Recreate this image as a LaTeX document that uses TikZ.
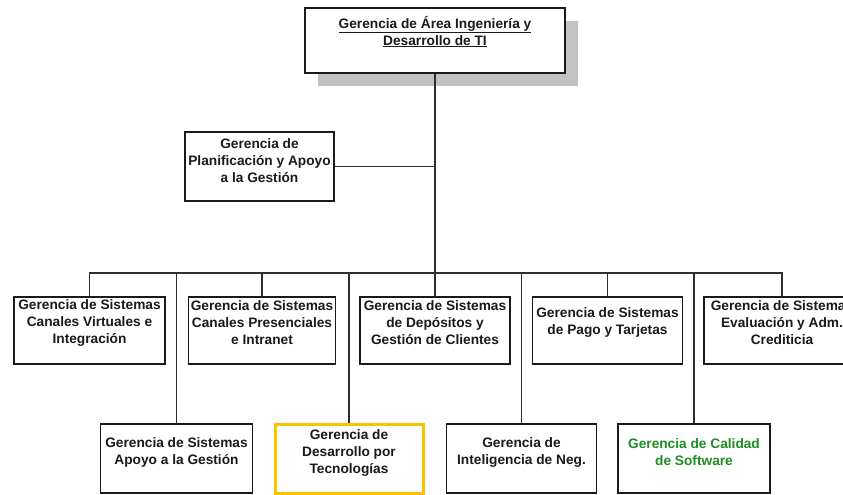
\documentclass[tikz,border=0pt]{standalone}
\usepackage{fontspec}
\setmainfont{Liberation Sans}
\usetikzlibrary{shadows}
\definecolor{inkgray}{HTML}{1A1A1A}
\definecolor{wiregray}{HTML}{2E2E2E}
\definecolor{shadegray}{HTML}{C2C2C2}
\definecolor{focusgold}{HTML}{FFC000}
\definecolor{qagreen}{HTML}{1E8E22}
\tikzset{
  unitbox/.style={draw=inkgray, line width=1.5pt, fill=white, rectangle,
    minimum width=#1, minimum height=67pt, inner sep=0pt},
  unitbox/.default=150pt,
  txt/.style={align=center, text=inkgray, font=\bfseries\fontsize{13.7}{17}\selectfont, inner sep=0pt},
  wire/.style={draw=wiregray, line width=1.5pt},
  headshadow/.style={drop shadow={shadow xshift=13pt, shadow yshift=-13pt, fill=shadegray, opacity=1}},
}
\begin{document}
\begin{tikzpicture}[x=1pt, y=-1pt]
\useasboundingbox (0,0) rectangle (843,495);

% head office
\node[unitbox=260pt, minimum height=65pt, headshadow,
  label={[txt, yshift=9pt]center:{\underline{Gerencia de Área Ingeniería y}\\\underline{Desarrollo de TI}}}]
  (head) at (435,40.5) {};

% staff unit
\node[unitbox=149pt, minimum height=69pt,
  label={[txt, yshift=5.5pt]center:{Gerencia de\\Planificación y Apoyo\\a la Gestión}}]
  (plan) at (259.5,166.5) {};

% first row of systems units
\node[unitbox=151pt, label={[txt, yshift=8pt]center:{Gerencia de Sistemas\\Canales Virtuales e\\Integración}}]
  (virt) at (89.5,330.5) {};
\node[unitbox=147pt, label={[txt, yshift=8pt]center:{Gerencia de Sistemas\\Canales Presenciales\\e Intranet}}]
  (pres) at (262,330.5) {};
\node[unitbox=150pt, label={[txt, yshift=8pt]center:{Gerencia de Sistemas\\de Depósitos y\\Gestión de Clientes}}]
  (depo) at (435,330.5) {};
\node[unitbox=150pt, label={[txt, yshift=8pt]center:{Gerencia de Sistemas\\de Pago y Tarjetas}}]
  (pago) at (607.5,330.5) {};
\node[unitbox=156pt, label={[txt, yshift=8pt]center:{Gerencia de Sistemas\\Evaluación y Adm.\\Crediticia}}]
  (cred) at (782,330.5) {};

% second row
\node[unitbox=152pt, minimum height=69pt,
  label={[txt, yshift=6pt]center:{Gerencia de Sistemas\\Apoyo a la Gestión}}]
  (apoyo) at (176.5,458.5) {};
\node[unitbox=148pt, minimum height=69pt, draw=focusgold, line width=3pt,
  label={[txt, yshift=6pt]center:{Gerencia de\\Desarrollo por\\Tecnologías}}]
  (tecno) at (349,458.5) {};
\node[unitbox=150pt, minimum height=69pt,
  label={[txt, yshift=6pt]center:{Gerencia de\\Inteligencia de Neg.}}]
  (intel) at (521.5,458.5) {};
\node[unitbox=152pt, minimum height=69pt,
  label={[txt, yshift=6pt, text=qagreen]center:{Gerencia de Calidad\\de Software}}]
  (calidad) at (694,458.5) {};

% reporting lines
\coordinate (bus) at (435,273);
\draw[wire] (head.south) -- (head.south |- depo.north);
\draw[wire] (plan.east) -- (plan.east -| head.south);
\draw[wire] (virt.north) -- (virt.north |- bus) -- (cred.north |- bus) -- (cred.north);
\draw[wire] (pres.north) -- (pres.north |- bus);
\draw[wire] (pago.north) -- (pago.north |- bus);
\draw[wire] (apoyo.north) -- (apoyo.north |- bus);
\draw[wire] (tecno.north) -- (tecno.north |- bus);
\draw[wire] (intel.north) -- (intel.north |- bus);
\draw[wire] (calidad.north) -- (calidad.north |- bus);
\end{tikzpicture}
\end{document}
